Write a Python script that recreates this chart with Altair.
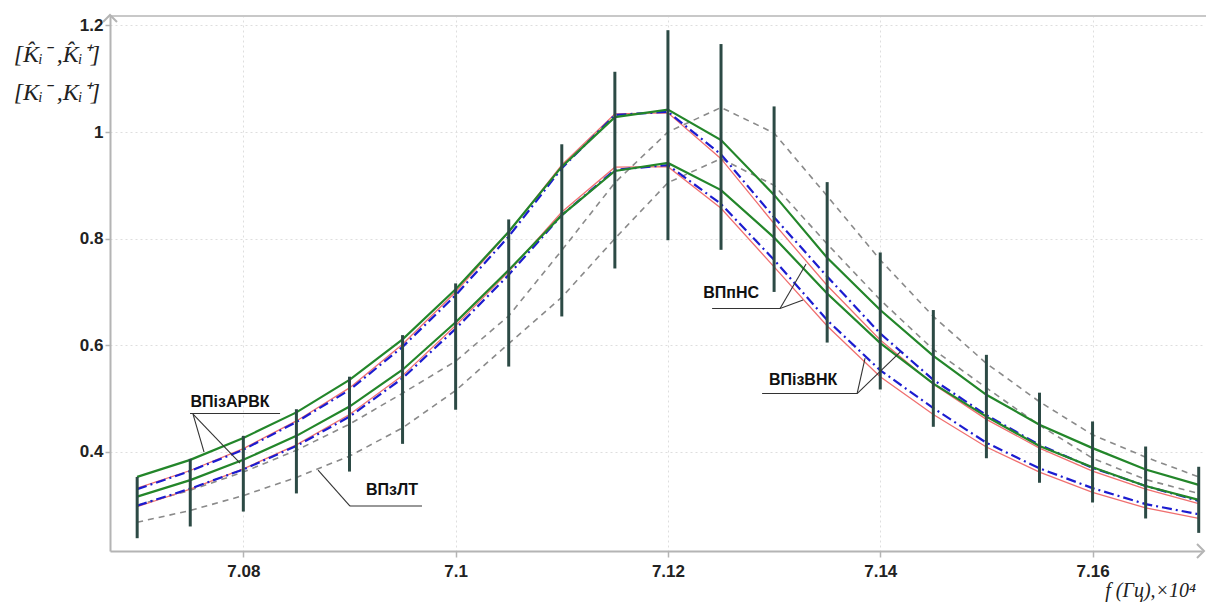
import altair as alt
import pandas as pd

# ---------------- data ----------------
F = [7.07, 7.075, 7.08, 7.085, 7.09, 7.095, 7.1, 7.105, 7.11, 7.115, 7.12,
     7.125, 7.13, 7.135, 7.14, 7.145, 7.15, 7.155, 7.16, 7.165, 7.17]

GREEN_UP = [0.353, 0.385, 0.426, 0.474, 0.535, 0.611, 0.705, 0.813, 0.935, 1.028, 1.042,
            0.985, 0.882, 0.764, 0.666, 0.580, 0.507, 0.451, 0.407, 0.367, 0.338]
GREEN_LO = [0.316, 0.347, 0.385, 0.430, 0.485, 0.554, 0.643, 0.741, 0.844, 0.927, 0.942,
            0.891, 0.802, 0.697, 0.604, 0.528, 0.466, 0.411, 0.371, 0.336, 0.310]
BLUE_UP = [0.330, 0.364, 0.404, 0.456, 0.516, 0.597, 0.694, 0.804, 0.932, 1.032, 1.038,
           0.958, 0.840, 0.729, 0.622, 0.535, 0.469, 0.413, 0.370, 0.336, 0.308]
BLUE_LO = [0.299, 0.331, 0.367, 0.411, 0.466, 0.538, 0.631, 0.732, 0.844, 0.929, 0.938,
           0.865, 0.760, 0.647, 0.553, 0.482, 0.417, 0.369, 0.332, 0.302, 0.283]
RED_UP = [0.332, 0.365, 0.406, 0.458, 0.520, 0.602, 0.700, 0.812, 0.938, 1.034, 1.036,
          0.950, 0.828, 0.712, 0.610, 0.527, 0.461, 0.407, 0.364, 0.330, 0.303]
RED_LO = [0.297, 0.330, 0.368, 0.413, 0.470, 0.543, 0.637, 0.738, 0.850, 0.934, 0.935,
          0.857, 0.747, 0.636, 0.541, 0.470, 0.409, 0.362, 0.324, 0.295, 0.275]
GRAY_UP = [0.300, 0.328, 0.362, 0.403, 0.452, 0.510, 0.570, 0.655, 0.778, 0.905, 1.000,
           1.046, 0.998, 0.880, 0.760, 0.654, 0.566, 0.494, 0.432, 0.390, 0.353]
GRAY_LO = [0.268, 0.290, 0.318, 0.352, 0.392, 0.445, 0.515, 0.603, 0.690, 0.800, 0.905,
           0.950, 0.900, 0.790, 0.685, 0.592, 0.520, 0.450, 0.388, 0.348, 0.322]
BAR_LO = [0.238, 0.260, 0.288, 0.322, 0.363, 0.415, 0.479, 0.560, 0.654, 0.744, 0.797,
          0.779, 0.700, 0.605, 0.517, 0.447, 0.388, 0.342, 0.305, 0.275, 0.248]
BAR_HI = [0.353, 0.387, 0.430, 0.480, 0.541, 0.619, 0.716, 0.836, 0.977, 1.113, 1.191,
          1.165, 1.048, 0.906, 0.774, 0.666, 0.582, 0.511, 0.457, 0.410, 0.372]

X_TICKS = [7.08, 7.1, 7.12, 7.14, 7.16]
Y_TICKS = [0.4, 0.6, 0.8, 1.0, 1.2]

ANN_LABELS = ["ВПізАРВК", "ВПзЛТ", "ВПпНС", "ВПізВНК"]
ANN_F = [7.07875, 7.09401, 7.12595, 7.13273]
ANN_V = [0.4934, 0.3283, 0.698, 0.5347]

# annotation underline / leader segments (f1, v1, f2, v2)
SEG_F1 = [7.07498, 7.07526, 7.07526, 7.09005, 7.09005, 7.12416, 7.13056, 7.13056, 7.12887, 7.13782, 7.13782]
SEG_V1 = [0.4719, 0.4709, 0.4709, 0.2983, 0.2983, 0.6689, 0.6689, 0.6689, 0.5094, 0.5094, 0.5094]
SEG_F2 = [7.08346, 7.07630, 7.07969, 7.09683, 7.08704, 7.13056, 7.13301, 7.13273, 7.13782, 7.13857, 7.14187]
SEG_V2 = [0.4719, 0.3996, 0.3790, 0.2983, 0.3659, 0.6689, 0.7523, 0.6848, 0.5094, 0.5760, 0.5872]

Y_TITLE_1 = "[K\u0302\u1d62\u207b ,K\u0302\u1d62\u207a]"
Y_TITLE_2 = "[K\u1d62\u207b ,K\u1d62\u207a]"
X_TITLE = "f (Гц),×10\u2074"

# ---------------- layout ----------------
W, H = 1092, 536
X_DOMAIN = [7.06744, 7.17031]
Y_DOMAIN = [0.214, 1.2195]
AXIS_GRAY = "#b4b4b4"

xs = alt.Scale(domain=X_DOMAIN, nice=False, zero=False)
ys = alt.Scale(domain=Y_DOMAIN, nice=False, zero=False)


def curves(upper, lower):
    rows = []
    for f, u, l in zip(F, upper, lower):
        rows.append({"f": f, "v": u, "band": "upper"})
        rows.append({"f": f, "v": l, "band": "lower"})
    return pd.DataFrame(rows)


x_axis = alt.Axis(values=X_TICKS, labelExpr="format(datum.value, '.2~f')",
                  labelFont="Liberation Sans", labelFontWeight="bold", labelFontSize=17,
                  labelColor="#222222", domainColor=AXIS_GRAY, domainWidth=2,
                  tickColor=AXIS_GRAY, tickWidth=1.5, tickSize=6, labelPadding=6,
                  grid=True, gridColor="#dedede", gridDash=[2, 3], gridWidth=1, title=None)
y_axis = alt.Axis(values=Y_TICKS, labelExpr="format(datum.value, '.1~f')",
                  labelFont="Liberation Sans", labelFontWeight="bold", labelFontSize=17,
                  labelColor="#222222", domainColor=AXIS_GRAY, domainWidth=2,
                  tickColor=AXIS_GRAY, tickWidth=1.5, tickSize=5, labelPadding=2,
                  grid=True, gridColor="#dedede", gridDash=[2, 3], gridWidth=1, title=None)


def X(field):
    return alt.X(field, scale=xs, axis=x_axis)


def Y(field):
    return alt.Y(field, scale=ys, axis=y_axis)


gray = alt.Chart(curves(GRAY_UP, GRAY_LO)).mark_line(
    color="#8a8a8a", strokeWidth=1.6, strokeDash=[6, 5]).encode(
    x=X("f:Q"), y=Y("v:Q"), detail="band:N")

red = alt.Chart(curves(RED_UP, RED_LO)).mark_line(color="#f07070", strokeWidth=1.3).encode(
    x=X("f:Q"), y=Y("v:Q"), detail="band:N")

blue = alt.Chart(curves(BLUE_UP, BLUE_LO)).mark_line(
    color="#1c1cd0", strokeWidth=2.2, strokeDash=[10, 4, 2, 4]).encode(
    x=X("f:Q"), y=Y("v:Q"), detail="band:N")

green = alt.Chart(curves(GREEN_UP, GREEN_LO)).mark_line(color="#23862a", strokeWidth=2.2).encode(
    x=X("f:Q"), y=Y("v:Q"), detail="band:N")

bars = alt.Chart(pd.DataFrame({"f": F, "lo": BAR_LO, "hi": BAR_HI})).mark_rule(
    color="#2c4a45", strokeWidth=3).encode(
    x=X("f:Q"), y=Y("lo:Q"), y2="hi:Q")

segs = alt.Chart(pd.DataFrame({"f": SEG_F1, "v": SEG_V1, "f2": SEG_F2, "v2": SEG_V2})).mark_rule(
    color="#333333", strokeWidth=1.1).encode(
    x=X("f:Q"), y=Y("v:Q"), x2="f2:Q", y2="v2:Q")

ann = alt.Chart(pd.DataFrame({"f": ANN_F, "v": ANN_V, "t": ANN_LABELS})).mark_text(
    font="Liberation Sans", fontWeight="bold", fontSize=16, color="#111111",
    align="center", baseline="middle").encode(
    x=X("f:Q"), y=Y("v:Q"), text="t:N")

one = pd.DataFrame({"k": [0]})

top_line = alt.Chart(one).mark_rule(color="#c8c8c8", strokeWidth=2).encode(
    x=alt.value(0), x2=alt.value(W + 4), y=alt.value(1))

arrow_up = alt.Chart(one).mark_point(
    shape="M-1,1L0,0L1,1", size=196, filled=False, stroke=AXIS_GRAY, strokeWidth=2, opacity=1).encode(
    x=alt.value(0), y=alt.value(0))

arrow_right = alt.Chart(one).mark_point(
    shape="M-1,-1L0,0L-1,1", size=196, filled=False, stroke=AXIS_GRAY, strokeWidth=2, opacity=1).encode(
    x=alt.value(W + 2), y=alt.value(H))

ytitle1 = alt.Chart(one).mark_text(
    text=Y_TITLE_1, font="Liberation Serif", fontStyle="italic", fontSize=24, color="#222222",
    align="right", baseline="middle").encode(x=alt.value(-10), y=alt.value(40))
ytitle2 = alt.Chart(one).mark_text(
    text=Y_TITLE_2, font="Liberation Serif", fontStyle="italic", fontSize=24, color="#222222",
    align="right", baseline="middle").encode(x=alt.value(-10), y=alt.value(78))
xtitle = alt.Chart(one).mark_text(
    text=X_TITLE, font="Liberation Serif", fontStyle="italic", fontSize=20, color="#222222",
    align="right", baseline="alphabetic").encode(x=alt.value(W - 6), y=alt.value(H + 46))

chart = alt.layer(
    gray, red, blue, green, bars, segs, ann, top_line, arrow_up, arrow_right,
    ytitle1, ytitle2, xtitle
).properties(
    width=W, height=H,
    autosize=alt.AutoSizeParams(type="none"),
    padding={"left": 102, "top": 7, "right": 4, "bottom": 51},
    background="white",
).configure_view(stroke=None)

chart.save("out.html", embed_options={"renderer": "svg", "actions": False})
